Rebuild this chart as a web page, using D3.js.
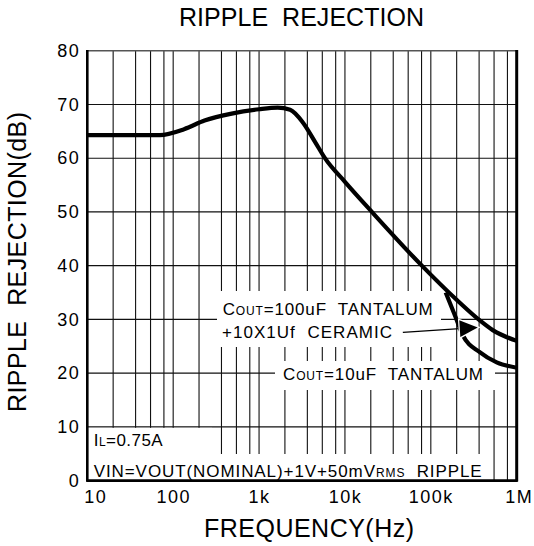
<!DOCTYPE html>
<html>
<head>
<meta charset="utf-8">
<script src="https://cdn.jsdelivr.net/npm/d3@7"></script>
<style>
  html, body { margin: 0; padding: 0; background: #fff; }
  svg { display: block; }
  text { font-family: "Liberation Sans", Arial, sans-serif; fill: #000; white-space: pre; }
</style>
</head>
<body>
<svg id="chart" width="534" height="546"></svg>
<script>
// ---------------- data ----------------
const titleText = "RIPPLE  REJECTION";
const xLabelText = "FREQUENCY(Hz)";
const yLabelText = "RIPPLE  REJECTION(dB)";

const yTicks = [0, 10, 20, 30, 40, 50, 60, 70, 80];
const xTickValues = [10, 100, 1000, 10000, 100000, 1000000];
const xTickLabels = ["10", "100", "1k", "10k", "100k", "1M"];
// grid lines inside each decade (as drawn on the original sheet)
const minorMultipliers = [2, 3.65, 5.45, 7.8];

// Cout = 100uF tantalum + 10 x 1uF ceramic
const mainFreq = [10, 70, 134, 232, 480, 1000, 1650, 2300, 3250, 4500, 5850, 10000, 20600, 78600, 201000, 372000, 526000, 1000000];
const mainDb   = [64.3, 64.3, 65.4, 67.0, 68.3, 69.1, 69.4, 69.0, 66.6, 63.0, 60.0, 55.6, 50, 40, 33.6, 29.8, 28.0, 26.0];

// Cout = 10uF tantalum (branches off at high frequency)
const tant10Freq = [149000, 190000, 235000, 371000, 585000, 1000000];
const tant10Db   = [35.0, 30.8, 27.1, 23.9, 22.0, 21.0];

// annotation arrow (data coordinates)
const arrowFrom = { f: 47200, v: 27.6 };
const arrowTo   = { f: 352000, v: 28.5 };

const ann1 = [["C"], ["OUT", true], ["=100uF  TANTALUM"]];
const ann2 = [["+10X1Uf  CERAMIC"]];
const ann3 = [["C"], ["OUT", true], ["=10uF  TANTALUM"]];
const cond1 = [["I"], ["L", true], ["=0.75A"]];
const cond2 = [["VIN=VOUT(NOMINAL)+1V+50mV"], ["RMS", true], ["  RIPPLE"]];

// ---------------- chart ----------------
const svg = d3.select("#chart");
const x = d3.scaleLog().domain([10, 1e6]).range([87.3, 516.7]);
const y = d3.scaleLinear().domain([0, 80]).range([480.6, 50.7]);
const [x0, x1] = x.range();
const [yb, yt] = y.range();

// grid
const minorVals = [];
for (let dec = 10; dec < 1e6; dec *= 10) {
  minorMultipliers.forEach(m => minorVals.push(dec * m));
  if (dec > 10) minorVals.push(dec);
}
const grid = svg.append("g").attr("stroke", "#111").attr("stroke-width", 1.1);
grid.selectAll("line.v").data(minorVals).join("line")
  .attr("class", "v")
  .attr("x1", d => x(d)).attr("x2", d => x(d))
  .attr("y1", yb).attr("y2", yt);
grid.selectAll("line.h").data(yTicks.filter(d => d > 0 && d < 80)).join("line")
  .attr("class", "h")
  .attr("x1", x0).attr("x2", x1)
  .attr("y1", d => y(d)).attr("y2", d => y(d));

// helpers
function multiText(g, parts, px, py, size, smallSize) {
  const t = g.append("text").attr("x", px).attr("y", py).attr("font-size", size);
  parts.forEach(p => {
    t.append("tspan").text(p[0]).attr("font-size", p[1] ? smallSize : size);
  });
  return t;
}
function fitWidth(t, target) {
  const node = t.node();
  const w = node.getComputedTextLength();
  const n = node.textContent.length;
  t.style("letter-spacing", ((target - w) / (n - 1)) + "px");
}

// white boxes behind in-plot texts, then texts
const boxes = svg.append("g");
const labels = svg.append("g");

const t1 = multiText(labels, ann1, 222.7, 315, 17, 12); fitWidth(t1, 210);
const t2 = multiText(labels, ann2, 222, 338, 17, 12); fitWidth(t2, 170);
const t3 = multiText(labels, ann3, 283, 380, 17, 12); fitWidth(t3, 200);
const c1 = multiText(labels, cond1, 93.7, 446, 17, 12); fitWidth(c1, 69);
const c2 = multiText(labels, cond2, 93.7, 477, 17, 12); fitWidth(c2, 388);

function box(bx0, by0, bx1, by1) {
  boxes.append("rect").attr("x", bx0).attr("y", by0)
    .attr("width", bx1 - bx0).attr("height", by1 - by0).attr("fill", "#fff");
}
box(217, 291, 441, 347);
box(275, 361, 495, 390);
box(x0, y(10) + 1, 212, yb);
box(x0, 454, 485, yb);

// frame
svg.append("line").attr("x1", x0).attr("x2", x1).attr("y1", yt).attr("y2", yt)
  .attr("stroke", "#555").attr("stroke-width", 1.5);
svg.append("line").attr("x1", x0).attr("x2", x0).attr("y1", yt - 0.7).attr("y2", yb + 1)
  .attr("stroke", "#000").attr("stroke-width", 2.6);
svg.append("line").attr("x1", x1).attr("x2", x1).attr("y1", yt - 0.7).attr("y2", yb + 1)
  .attr("stroke", "#000").attr("stroke-width", 3);
svg.append("line").attr("x1", x0 - 1).attr("x2", x1 + 1).attr("y1", yb).attr("y2", yb)
  .attr("stroke", "#000").attr("stroke-width", 2.6);

// axes (labels only)
const yAxis = svg.append("g").attr("transform", `translate(${x0},0)`)
  .call(d3.axisLeft(y).tickValues(yTicks).tickSize(0).tickPadding(7).tickFormat(d3.format("d")));
const xAxis = svg.append("g").attr("transform", `translate(0,${yb})`)
  .call(d3.axisBottom(x).tickValues(xTickValues).tickSize(0).tickPadding(9.6)
    .tickFormat((d, i) => xTickLabels[i]));
[yAxis, xAxis].forEach(a => {
  a.select(".domain").remove();
  a.selectAll("text").attr("font-size", 18)
    .attr("font-family", '"Liberation Sans", Arial, sans-serif')
    .style("letter-spacing", "1.5px").attr("fill", "#000");
});
xAxis.selectAll(".tick text").attr("dx", (d, i) => i === 0 ? 8 : (i === xTickValues.length - 1 ? 2 : 0));

// curves
const line = d3.line().x(d => x(d.f)).y(d => y(d.v)).curve(d3.curveMonotoneX);
const mainData = mainFreq.map((f, i) => ({ f, v: mainDb[i] }));
const tantData = tant10Freq.map((f, i) => ({ f, v: tant10Db[i] }));
svg.append("path").datum(tantData).attr("d", line)
  .attr("fill", "none").attr("stroke", "#000").attr("stroke-width", 4.2)
  .attr("stroke-linejoin", "round").attr("stroke-linecap", "butt");
svg.append("path").datum(mainData).attr("d", line)
  .attr("fill", "none").attr("stroke", "#000").attr("stroke-width", 4.2)
  .attr("stroke-linejoin", "round").attr("stroke-linecap", "butt");

// arrow
const ax0 = x(arrowFrom.f), ay0 = y(arrowFrom.v);
const ax1 = x(arrowTo.f), ay1 = y(arrowTo.v);
const len = Math.hypot(ax1 - ax0, ay1 - ay0);
const ux = (ax1 - ax0) / len, uy = (ay1 - ay0) / len;
const headL = 18, headW = 8.5;
const bx = ax1 - ux * headL, by = ay1 - uy * headL;
svg.append("line").attr("x1", ax0).attr("y1", ay0).attr("x2", bx).attr("y2", by)
  .attr("stroke", "#000").attr("stroke-width", 1.3);
svg.append("polygon")
  .attr("points", [[ax1, ay1], [bx - uy * headW, by + ux * headW], [bx + uy * headW, by - ux * headW]]
    .map(p => p.join(",")).join(" "))
  .attr("fill", "#000").attr("stroke", "#fff").attr("stroke-width", 2.5)
  .attr("paint-order", "stroke");

// titles
const title = svg.append("text").attr("x", 179).attr("y", 26).attr("font-size", 25).text(titleText);
fitWidth(title, 245);
const xl = svg.append("text").attr("x", 204).attr("y", 537).attr("font-size", 25).text(xLabelText);
fitWidth(xl, 210);
const yl = svg.append("text").attr("font-size", 25)
  .attr("transform", "translate(26,412) rotate(-90)").text(yLabelText);
fitWidth(yl, 300);
</script>
</body>
</html>
